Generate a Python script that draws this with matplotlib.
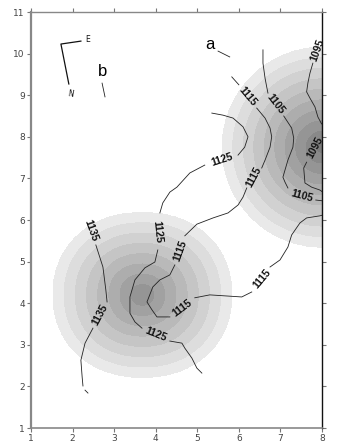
"""
Карта: серые пятна плотности и изолинии с подписями.
"""
import numpy as np
import matplotlib
matplotlib.use('Agg')
import matplotlib.pyplot as plt

# --- данные ---------------------------------------------------------------
# пятна (центр, полуоси, высота в числе ступеней заливки, степень скругления)
blob_x = [3.68, 8.0]
blob_y = [4.2, 7.75]
blob_rx = [2.15, 2.4]
blob_ry = [1.98, 2.4]
blob_peak = [8.0, 9.5]
blob_p = [2.15, 2.0]

fill_grays = ['#e9e9e9', '#dddddd', '#d1d1d1', '#c5c5c5', '#b9b9b9',
              '#adadad', '#a1a1a1', '#959595', '#898989', '#7d7d7d']

# изолинии: уровень -> список отрезков [(x...), (y...)]
iso_1135 = [
    [(2.56, 2.73, 2.80, 2.83), (5.40, 4.87, 4.32, 4.03)],
    [(2.49, 2.30, 2.20, 2.23, 2.25), (3.40, 3.04, 2.63, 2.23, 2.01)],
    [(2.30, 2.37), (1.91, 1.84)],
]
iso_1125 = [
    [(5.35, 5.62, 5.86, 6.10, 6.22, 6.14, 5.98), (8.57, 8.52, 8.45, 8.24, 8.00, 7.75, 7.56)],
    [(5.18, 4.82, 4.51, 4.34, 4.17, 4.10), (7.32, 7.13, 6.79, 6.67, 6.41, 6.17)],
    [(4.05, 3.98, 3.74, 3.50, 3.38, 3.38, 3.50, 3.67), (5.28, 4.99, 4.85, 4.56, 4.15, 3.76, 3.55, 3.40)],
    [(4.34, 4.63, 4.70, 4.87, 4.99, 5.11), (3.09, 3.04, 2.92, 2.68, 2.44, 2.32)],
]
iso_1115 = [
    [(5.83, 6.00), (9.44, 9.25)],
    [(6.43, 6.63, 6.75, 6.79, 6.75, 6.63, 6.55), (8.69, 8.45, 8.21, 8.00, 7.75, 7.44, 7.25)],
    [(6.19, 6.10, 5.98, 5.74, 5.38, 4.99, 4.70), (6.77, 6.55, 6.36, 6.17, 6.05, 5.90, 5.62)],
    [(4.46, 4.34, 4.10, 3.93, 3.79, 3.91, 4.03, 4.34), (4.92, 4.68, 4.56, 4.39, 4.03, 3.84, 3.67, 3.67)],
    [(4.94, 5.30, 6.07, 6.31), (4.13, 4.20, 4.15, 4.27)],
    [(6.75, 6.99, 7.18, 7.27, 7.47, 7.63, 7.95, 8.02), (4.87, 5.04, 5.35, 5.64, 5.93, 6.05, 6.10, 6.12)],
]
iso_1105 = [
    [(6.58, 6.58, 6.63, 6.67, 6.70), (10.09, 9.77, 9.41, 9.20, 9.05)],
    [(7.08, 7.27, 7.32, 7.30, 7.18, 7.06, 7.11, 7.18), (8.50, 8.21, 7.97, 7.75, 7.44, 7.03, 6.91, 6.77)],
    [(7.85, 8.02), (6.48, 6.46)],
]
iso_1095 = [
    [(7.78, 7.71, 7.66, 7.63, 7.71, 7.83, 7.90, 7.99), (9.77, 9.53, 9.29, 9.08, 8.93, 8.72, 8.48, 8.31)],
    [(7.63, 7.56, 7.59, 7.75, 7.95, 8.02), (7.39, 7.25, 6.89, 6.79, 6.72, 6.67)],
]

# подписи изолиний: x, y, текст, угол
iso_labels = [
    (2.44, 5.74, '1135', -70), (2.66, 3.72, '1135', 62),
    (5.59, 7.44, '1125', 18), (4.05, 5.71, '1125', -84), (4.00, 3.24, '1125', -22),
    (6.22, 8.96, '1115', -50), (6.36, 7.03, '1115', 62), (4.58, 5.25, '1115', 70),
    (4.63, 3.88, '1115', 37), (6.55, 4.58, '1115', 50),
    (6.89, 8.79, '1105', -52), (7.51, 6.58, '1105', -15),
    (7.90, 10.09, '1095', 70), (7.83, 7.75, '1095', 62),
]

x_ticks = [1, 2, 3, 4, 5, 6, 7, 8]
y_ticks = [1, 2, 3, 4, 5, 6, 7, 8, 9, 10, 11]


def blob_field(X, Y):
    """Конусообразные пятна со скруглёнными краями."""
    field = np.zeros_like(X)
    for cx, cy, rx, ry, h, p in zip(blob_x, blob_y, blob_rx, blob_ry, blob_peak, blob_p):
        r = (np.abs((X - cx) / rx) ** p + np.abs((Y - cy) / ry) ** p) ** (1 / p)
        field = np.maximum(field, h * (1 - r))
    return field


fig = plt.figure(figsize=(3.38, 4.48), dpi=100)
ax = fig.add_axes([31 / 338, 20 / 448, 291 / 338, 416 / 448])

gx, gy = np.meshgrid(np.linspace(1, 8, 400), np.linspace(1, 11, 560))
levels = [0.01] + list(range(1, 11))
ax.contourf(gx, gy, blob_field(gx, gy), levels=levels, colors=fill_grays, zorder=1)

for segs in (iso_1135, iso_1125, iso_1115, iso_1105, iso_1095):
    for xs, ys in segs:
        ax.plot(xs, ys, color='#222222', lw=0.6, zorder=2)

for x, y, txt, ang in iso_labels:
    ax.text(x, y, txt, rotation=ang, rotation_mode='anchor', ha='center', va='center',
            fontsize=7.5, fontweight='bold', family='Liberation Sans', color='#111111', zorder=3)

# стрелка сторон света и буквы
ax.plot([2.20, 1.72, 1.91], [10.30, 10.23, 9.27], color='#111111', lw=0.9, zorder=3)
ax.text(2.37, 10.33, 'E', fontsize=5.5, ha='center', va='center', color='#111111')
ax.text(1.94, 9.03, 'N', fontsize=5.5, ha='center', va='center', rotation=-10, color='#111111')
ax.text(5.30, 10.23, 'a', fontsize=12, ha='center', va='center', family='Liberation Sans')
ax.plot([5.50, 5.78], [10.06, 9.92], color='#222222', lw=0.6)
ax.text(2.71, 9.56, 'b', fontsize=12, ha='center', va='center', family='Liberation Sans')
ax.plot([2.71, 2.78], [9.29, 8.96], color='#222222', lw=0.6)

ax.set_xlim(1, 8)
ax.set_ylim(1, 11)
ax.set_xticks(x_ticks)
ax.set_yticks(y_ticks)
ax.tick_params(direction='out', length=3, width=0.8, labelsize=6.5, labelcolor='#444444',
               color='#777777', top=True, right=True, pad=1.5)
for side in ('left', 'bottom', 'top'):
    ax.spines[side].set_color('#888888')
ax.spines['left'].set_linewidth(1.6)
ax.spines['bottom'].set_linewidth(1.2)
ax.spines['top'].set_linewidth(1.0)
ax.spines['right'].set_color('#111111')
ax.spines['right'].set_linewidth(1.0)
for t in ax.yaxis.get_ticklines()[1::2]:
    t.set_color('#111111')

plt.savefig('out.png', dpi=100)
plt.close()
